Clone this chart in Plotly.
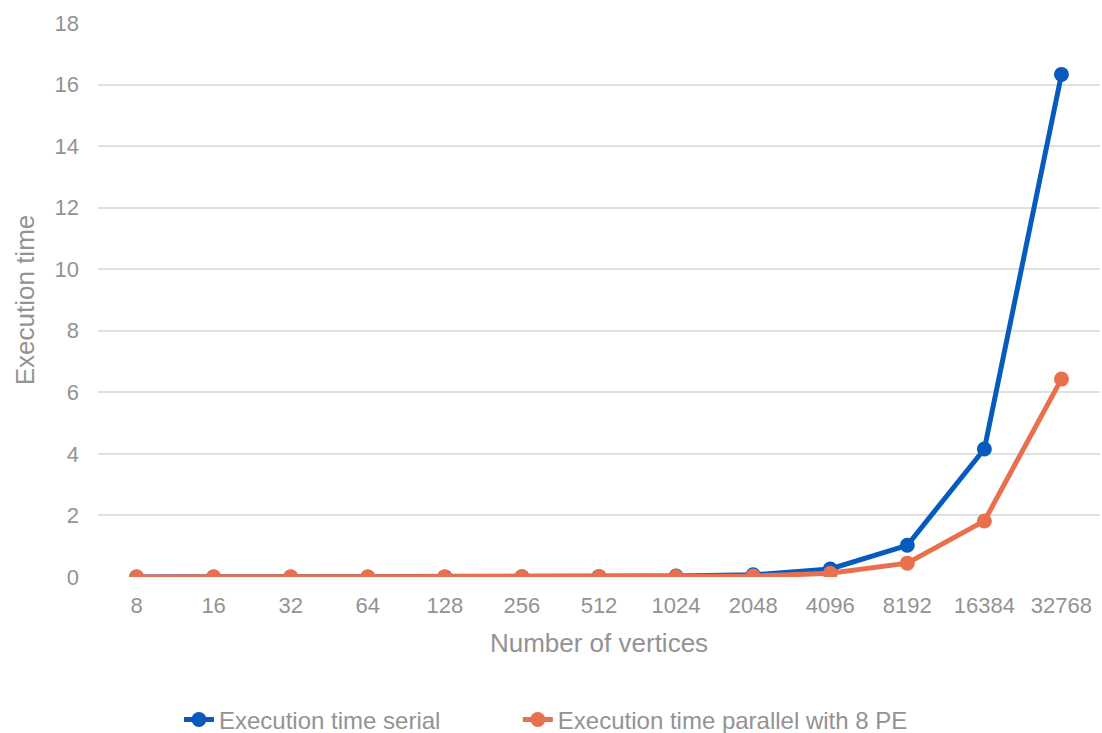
import plotly.graph_objects as go

categories = ["8", "16", "32", "64", "128", "256", "512", "1024", "2048", "4096", "8192", "16384", "32768"]
serial = [0.0, 0.0, 0.0, 0.001, 0.003, 0.006, 0.012, 0.03, 0.07, 0.26, 1.03, 4.16, 16.33]
parallel = [0.0, 0.0, 0.0, 0.001, 0.002, 0.004, 0.007, 0.015, 0.03, 0.12, 0.45, 1.82, 6.43]
y_ticks = [0, 2, 4, 6, 8, 10, 12, 14, 16, 18]

gray = "#939393"
fig = go.Figure()
fig.add_trace(go.Scatter(x=categories, y=serial, mode="lines+markers", name="Execution time serial",
                         line=dict(color="#065bbd", width=5), marker=dict(size=15, color="#065bbd"),
                         legend="legend", showlegend=True))
fig.add_trace(go.Scatter(x=categories, y=parallel, mode="lines+markers", name="Execution time parallel with 8 PE",
                         line=dict(color="#e8704f", width=5), marker=dict(size=15, color="#e8704f"),
                         legend="legend2", showlegend=True))

leg_common = dict(orientation="h", y=-0.258, yanchor="middle", xanchor="left",
                  font=dict(size=24, color=gray), bgcolor="rgba(0,0,0,0)")
fig.update_layout(
    width=1102, height=733,
    showlegend=True,
    margin=dict(l=98, r=2, t=23, b=156, autoexpand=False),
    plot_bgcolor="white", paper_bgcolor="white",
    font=dict(family="Liberation Sans, Arial, sans-serif", color=gray, size=22),
    xaxis=dict(type="category", automargin=False, range=[-0.5, 12.5],
               title=dict(text="Number of vertices", font=dict(size=26, color=gray), standoff=16),
               showgrid=False, showline=False, zeroline=False, ticks="", ticklabelstandoff=13,
               tickfont=dict(size=22, color=gray)),
    yaxis=dict(range=[0, 18], tickvals=y_ticks, automargin=False,
               title=dict(text="Execution time", font=dict(size=26, color=gray), standoff=12),
               showgrid=True, gridcolor="#e0e0e0", gridwidth=1.5, zeroline=False, showline=False,
               ticks="", ticklabelstandoff=18, tickfont=dict(size=22, color=gray)),
    legend=dict(x=0.0808, **leg_common),
    legend2=dict(x=0.419, **leg_common),
)
fig.write_html("out.html")
